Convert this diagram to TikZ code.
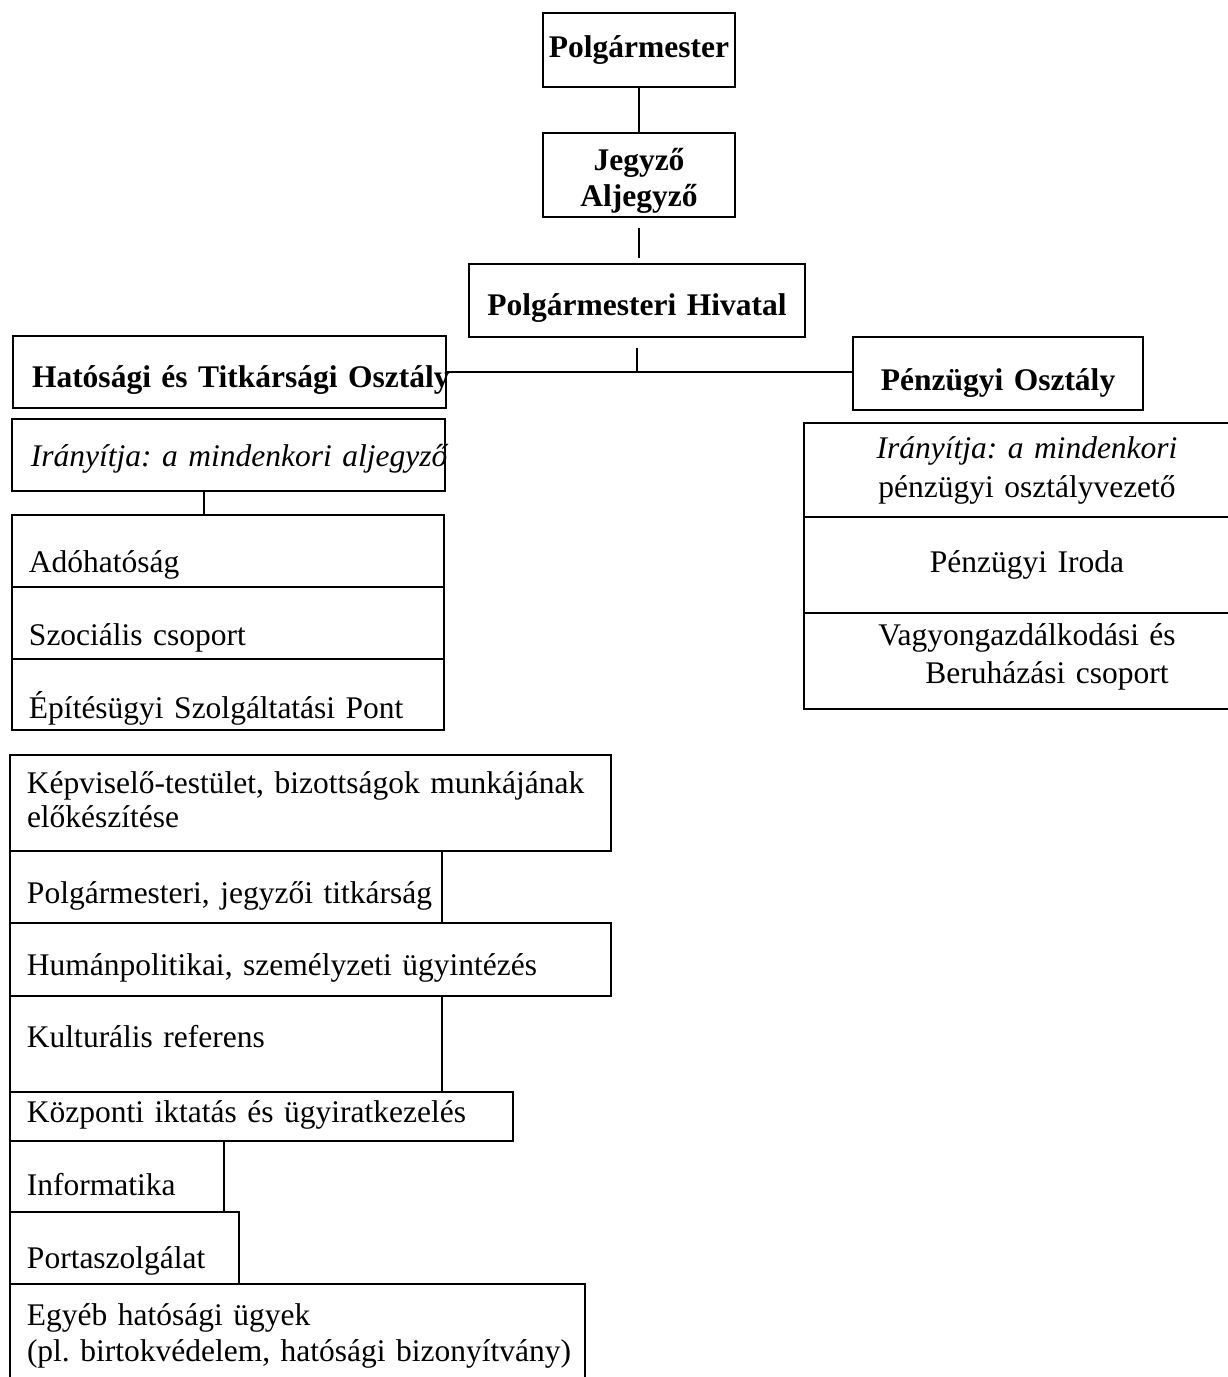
\documentclass[tikz,border=0pt]{standalone}
\usepackage{fontspec}
\setmainfont{Liberation Serif}
\usetikzlibrary{calc}
\newcommand{\unitfont}{\fontsize{31.5}{36}\selectfont\frenchspacing}
\newcommand{\ind}[2][17pt]{\hbox{\hspace*{#1}\begin{tabular}[t]{@{}l@{}}#2\end{tabular}}}
\tikzset{
	unit/.style={draw, line width=2pt, anchor=north west, outer sep=0pt, inner sep=0pt, align=left, font=\unitfont},
	head/.style={unit, align=center, font=\unitfont\bfseries},
	midunit/.style={unit, align=center},
	link/.style={line width=2pt}
}

\begin{document}
\begin{tikzpicture}[x=1pt,y=-1pt]
		%%%%% START %%%%%
		\useasboundingbox (0,0) rectangle (1227,1377);
		
		\node[head, text width=192pt, text height=44pt, text depth=30pt] (polg) at (543,13) {Polgármester};
		\node[head, text width=192pt, text height=37pt, text depth=47pt] (jegyzo) at (543,133) {Jegyző\\Aljegyző};
		\node[head, text width=336pt, text height=51pt, text depth=22pt] (hiv) at (469,264) {Polgármesteri Hivatal};
		
		\node[unit, font=\unitfont\bfseries, text width=433pt, text height=51pt, text depth=21pt] (hat) at (13,336) {\ind[19pt]{Hatósági és Titkársági Osztály}};
		\node[head, text width=290pt, text height=53pt, text depth=20pt] (penz) at (853,337) {Pénzügyi Osztály};
		
		% hatosagi oldal
		\node[unit, font=\unitfont\itshape, text width=433pt, text height=47pt, text depth=25pt] (iranyit) at (12,419) {\ind[19pt]{Irányítja: a mindenkori aljegyző}};
		\node[unit, text width=432pt, text height=57pt, text depth=15pt] (ado) at (12,515) {\ind{Adóhatóság}};
		\node[unit, text width=432pt, text height=58pt, text depth=14pt] (szoc) at (12,587) {\ind{Szociális csoport}};
		\node[unit, text width=432pt, text height=59pt, text depth=12pt] (epit) at (12,659) {\ind{Építésügyi Szolgáltatási Pont}};
		
		% penzugyi oldal
		\node[midunit, text width=446pt, text height=35pt, text depth=59pt] (vezeto) at (804,423) {{\itshape Irányítja: a mindenkori}\\[3pt]pénzügyi osztályvezető};
		\node[midunit, text width=446pt, text height=55pt, text depth=41pt] (iroda) at (804,517) {Pénzügyi Iroda};
		\node[midunit, text width=446pt, text height=32pt, text depth=64pt] (vagyon) at (804,613) {Vagyongazdálkodási és\\[2pt]\hspace*{40pt}Beruházási csoport};
		
		% titkarsagi feladatok
		\node[unit, text width=601pt, text height=38pt, text depth=58pt] (kepv) at (10,755) {\ind{Képviselő-testület, bizottságok munkájának\\[-2pt]előkészítése}};
		\node[unit, text width=432pt, text height=52pt, text depth=20pt] (titk) at (10,851) {\ind{Polgármesteri, jegyzői titkárság}};
		\node[unit, text width=601pt, text height=52pt, text depth=21pt] (human) at (10,923) {\ind{Humánpolitikai, személyzeti ügyintézés}};
		\node[unit, text width=432pt, text height=51pt, text depth=45pt] (kult) at (10,996) {\ind{Kulturális referens}};
		\node[unit, text width=503pt, text height=30pt, text depth=19pt] (kozp) at (10,1092) {\ind{Központi iktatás és ügyiratkezelés}};
		\node[unit, text width=214pt, text height=54pt, text depth=17pt] (info) at (10,1141) {\ind{Informatika}};
		\node[unit, text width=229pt, text height=56pt, text depth=16pt] (porta) at (10,1212) {\ind{Portaszolgálat}};
		\node[unit, text width=575pt, text height=41pt, text depth=75pt] (egyeb) at (10,1284) {\ind{Egyéb hatósági ügyek\\(pl. birtokvédelem, hatósági bizonyítvány)}};
		
		% vonalak
		\draw[link] (polg) -- (jegyzo);
		\draw[link, shorten <=11pt, shorten >=6pt] (jegyzo.south) -- (jegyzo.south |- hiv.north);
		\draw[link, shorten <=11pt] (hiv.south) -- (hiv.south |- hat.east);
		\draw[link] (hat.east) -- (hat.east -| penz.west);
		\coordinate (tap) at ([xshift=-24.5pt]iranyit.south);
		\draw[link] (tap) -- (tap |- ado.north);
		
		%%%%% END %%%%%
\end{tikzpicture}
\end{document}
